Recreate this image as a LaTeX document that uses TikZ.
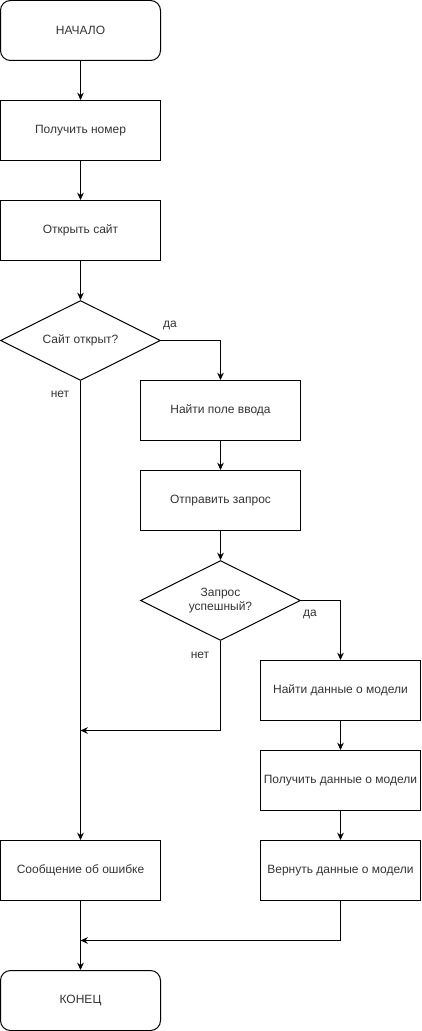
\documentclass[tikz,border=0pt]{standalone}
\usepackage{fontspec}
\setmainfont{Liberation Sans}
\usetikzlibrary{arrows.meta,shapes.geometric,positioning}

\tikzset{
  terminal/.style={draw, rounded corners=7.5pt, minimum width=120pt, minimum height=45pt, inner sep=1pt},
  process/.style={draw, minimum width=120pt, minimum height=45pt, inner sep=1pt},
  decision/.style={draw, diamond, aspect=2, minimum width=120pt, minimum height=60pt, inner sep=0pt, align=center},
  answer/.style={inner sep=1pt}
}

\begin{document}
\begin{tikzpicture}[x=0.75pt,y=-0.75pt,line width=0.75pt,
  >={Stealth[length=5.5pt,width=5pt]},
  every node/.append style={font=\fontsize{9}{11}\selectfont, text=black!80}]
\useasboundingbox (0,0) rectangle (421,1031);

\node[terminal] (start) at (80.5,30.5) {НАЧАЛО};
\node[process] (nomer) at (80.5,130.5) {Получить номер};
\node[process] (sait) at (80.5,230.5) {Открыть сайт};
\node[decision] (otkryt) at (80.5,340.5) {Сайт открыт?};
\node[process] (pole) at (220.5,410.5) {Найти поле ввода};
\node[process] (zapros) at (220.5,500.5) {Отправить запрос};
\node[decision] (uspeh) at (220.5,600.5) {Запрос\\успешный?};
\node[process] (naiti) at (340.5,690.5) {Найти данные о модели};
\node[process] (poluch) at (340.5,780.5) {Получить данные о модели};
\node[process] (vernut) at (340.5,870.5) {Вернуть данные о модели};
\node[process] (oshibka) at (80.5,870.5) {Сообщение об ошибке};
\node[terminal] (konec) at (80.5,1000.5) {КОНЕЦ};

% answers
\node[answer] (da1) at (170,325) {да};
\node[answer] (net1) at (60,394) {нет};
\node[answer] (da2) at (310,614) {да};
\node[answer] (net2) at (200,655) {нет};

\coordinate (join1) at (80.5,730.5);
\coordinate (join2) at (80.5,940.5);

\draw[->] (start) -- (nomer);
\draw[->] (nomer) -- (sait);
\draw[->] (sait) -- (otkryt);
\draw[->] (otkryt.east) -| (pole.north);
\draw[->] (pole) -- (zapros);
\draw[->] (zapros) -- (uspeh);
\draw[->] (uspeh.east) -| (naiti.north);
\draw[->] (naiti) -- (poluch);
\draw[->] (poluch) -- (vernut);
\draw[->] (otkryt.south) -- (oshibka.north);
\draw[->] (uspeh.south) |- (join1);
\draw[->] (oshibka) -- (konec);
\draw[->] (vernut.south) |- (join2);
\end{tikzpicture}
\end{document}
